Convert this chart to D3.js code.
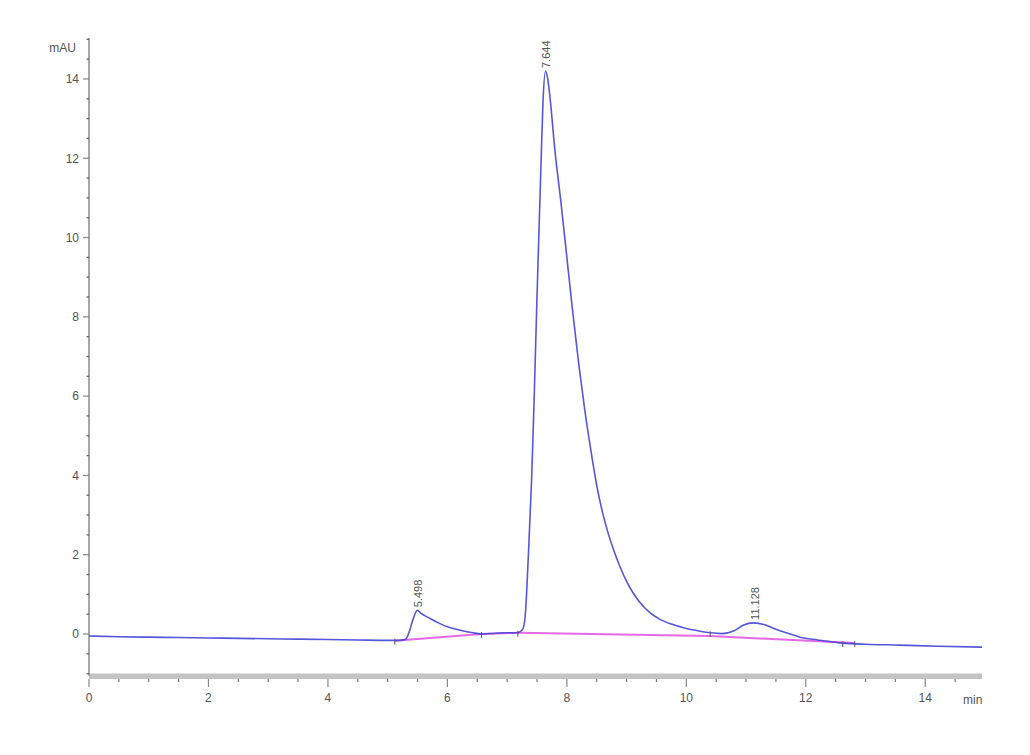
<!DOCTYPE html>
<html>
<head>
<meta charset="utf-8">
<script src="https://cdn.jsdelivr.net/npm/d3@7/dist/d3.min.js"></script>
<style>
  html, body { margin: 0; padding: 0; background: #fff; }
  svg { display: block; }
  text { font-family: "Liberation Sans", Arial, sans-serif; }
</style>
</head>
<body>
<svg id="chart" width="1030" height="755"></svg>
<script>
// ---- data ----
const time = [0,0.5,1,1.5,2,2.5,3,3.5,4,4.5,5,5.2,5.3,5.36,5.42,5.498,5.56,5.7,5.85,6.0,6.2,6.43,6.6,6.8,7.0,7.15,7.22,7.27,7.31,7.35,7.41,7.45,7.5,7.53,7.57,7.6,7.644,7.68,7.72,7.8,7.9,8.0,8.1,8.2,8.3,8.4,8.5,8.6,8.7,8.8,8.9,9.0,9.1,9.22,9.39,9.56,9.75,10.0,10.2,10.4,10.6,10.8,10.95,11.128,11.3,11.5,11.7,11.9,12.2,12.62,13.0,13.57,14.2,14.95];
const signal = [-0.05,-0.07,-0.08,-0.09,-0.10,-0.11,-0.12,-0.13,-0.14,-0.15,-0.16,-0.16,-0.13,0.05,0.35,0.6,0.52,0.4,0.28,0.18,0.1,0.03,0.0,0.02,0.03,0.03,0.06,0.15,0.6,1.8,3.9,5.8,8.5,10.0,12.0,13.4,14.2,14.0,13.5,12.2,10.9,9.5,8.1,6.8,5.65,4.65,3.75,3.05,2.5,2.05,1.66,1.33,1.06,0.8,0.54,0.37,0.25,0.14,0.08,0.03,0.01,0.08,0.22,0.28,0.24,0.12,0.02,-0.08,-0.15,-0.23,-0.26,-0.28,-0.31,-0.33];

// integration baseline segments
const baselineStart = [5.12, 6.57, 7.18, 10.4];
const baselineStartVal = [-0.17, 0.0, 0.03, -0.05];
const baselineEnd = [6.57, 7.18, 10.4, 12.82];
const baselineEndVal = [0.0, 0.03, -0.05, -0.23];
// integration event marks
const eventTimes = [5.12, 6.57, 7.18, 10.4, 12.62, 12.82];
const eventVals = [-0.17, 0.0, 0.03, 0.02, -0.23, -0.23];

const peakTimes = [5.498, 7.644, 11.128];
const peakVals = [0.6, 14.2, 0.28];
const peakLabels = ["5.498", "7.644", "11.128"];

const xTicks = [0, 2, 4, 6, 8, 10, 12, 14];
const yTicks = [0, 2, 4, 6, 8, 10, 12, 14];
const xUnit = "min";
const yUnit = "mAU";

// ---- layout ----
const svg = d3.select("#chart");
const x = d3.scaleLinear().domain([0, 14.95]).range([89, 982]);
const y = d3.scaleLinear().domain([0, 15]).range([634, 39.3]);
const yBottom = y(-1.05);

const axisColor = "#8a8a8a";
const textColor = "#555";

const defs = svg.append("defs");
defs.append("clipPath").attr("id", "plotclip")
  .append("rect").attr("x", x(0)).attr("y", 0).attr("width", x(14.95) - x(0)).attr("height", yBottom);
defs.append("clipPath").attr("id", "unitclip")
  .append("rect").attr("x", 0).attr("y", 0).attr("width", 983).attr("height", 755);

// x axis gray band
svg.append("rect")
  .attr("x", x(0)).attr("y", 673.5)
  .attr("width", x(14.95) - x(0)).attr("height", 5.5)
  .attr("fill", "#c4c4c4");

// x ticks
const xMinor = d3.range(0, 15, 0.5).filter(v => !xTicks.includes(v));
svg.append("g").selectAll("line").data(xMinor).join("line")
  .attr("x1", d => x(d)).attr("x2", d => x(d))
  .attr("y1", 679).attr("y2", 682)
  .attr("stroke", "#777").attr("stroke-width", 1.2);
svg.append("g").selectAll("line").data(xTicks).join("line")
  .attr("x1", d => x(d)).attr("x2", d => x(d))
  .attr("y1", 679).attr("y2", 687)
  .attr("stroke", "#888").attr("stroke-width", 1.2);
svg.append("g").selectAll("text").data(xTicks).join("text")
  .attr("x", d => x(d)).attr("y", 702)
  .attr("text-anchor", "middle")
  .attr("font-size", 12).attr("fill", textColor)
  .text(d => d);
svg.append("text")
  .attr("x", 963).attr("y", 704)
  .attr("font-size", 12).attr("fill", textColor)
  .attr("clip-path", "url(#unitclip)")
  .text(xUnit);

// y axis
svg.append("line")
  .attr("x1", x(0)).attr("x2", x(0))
  .attr("y1", 38).attr("y2", yBottom)
  .attr("stroke", axisColor).attr("stroke-width", 1.5);
const yMinor = d3.range(-1, 15.01, 0.5).filter(v => !yTicks.includes(v));
svg.append("g").selectAll("line").data(yMinor).join("line")
  .attr("x1", x(0) - 2.5).attr("x2", x(0))
  .attr("y1", d => y(d)).attr("y2", d => y(d))
  .attr("stroke", "#666").attr("stroke-width", 1.3);
svg.append("g").selectAll("line").data(yTicks).join("line")
  .attr("x1", x(0) - 6).attr("x2", x(0))
  .attr("y1", d => y(d)).attr("y2", d => y(d))
  .attr("stroke", "#888").attr("stroke-width", 1.2);
svg.append("g").selectAll("text").data(yTicks).join("text")
  .attr("x", x(0) - 10).attr("y", d => y(d))
  .attr("dy", "0.36em")
  .attr("text-anchor", "end")
  .attr("font-size", 12).attr("fill", textColor)
  .text(d => d);
svg.append("text")
  .attr("x", 76).attr("y", 52)
  .attr("text-anchor", "end")
  .attr("font-size", 12).attr("fill", textColor)
  .text(yUnit);

// baseline segments (magenta)
const segs = baselineStart.map((s, i) => ({t0: s, v0: baselineStartVal[i], t1: baselineEnd[i], v1: baselineEndVal[i]}));
svg.append("g").selectAll("line").data(segs).join("line")
  .attr("x1", d => x(d.t0)).attr("y1", d => y(d.v0))
  .attr("x2", d => x(d.t1)).attr("y2", d => y(d.v1))
  .attr("stroke", "#e050e0").attr("stroke-width", 2).attr("stroke-opacity", 0.85);

// signal line
const pts = time.map((t, i) => [t, signal[i]]);
const line = d3.line().x(d => x(d[0])).y(d => y(d[1])).curve(d3.curveMonotoneX);
svg.append("path")
  .attr("d", line(pts))
  .attr("fill", "none")
  .attr("stroke", "#4444d8")
  .attr("stroke-width", 1.6)
  .attr("stroke-opacity", 0.9)
  .attr("clip-path", "url(#plotclip)");

// event marks
svg.append("g").selectAll("line").data(eventTimes).join("line")
  .attr("x1", d => x(d)).attr("x2", d => x(d))
  .attr("y1", (d, i) => y(eventVals[i]) - 2).attr("y2", (d, i) => y(eventVals[i]) + 4)
  .attr("stroke", "#555").attr("stroke-width", 1);

// peak labels (rotated)
const lblG = svg.append("g");
peakTimes.forEach((t, i) => {
  const tx = lblG.append("text")
    .attr("font-size", 11).attr("fill", "#555")
    .attr("text-anchor", "start")
    .attr("dy", "0.35em")
    .text(peakLabels[i]);
  const len = tx.node().getComputedTextLength();
  const bottom = Math.max(y(peakVals[i]) - 3, y(15) + len);
  tx.attr("transform", `translate(${x(t) + 1},${bottom}) rotate(-90)`);
});
</script>
</body>
</html>
